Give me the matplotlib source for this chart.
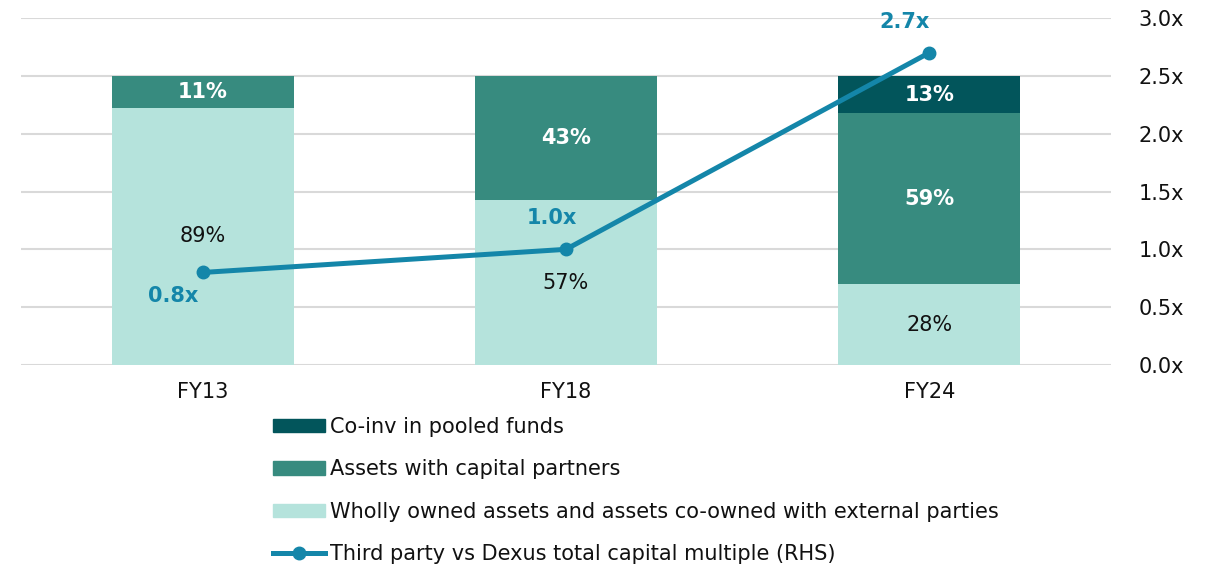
import matplotlib.pyplot as plt
from matplotlib.patches import Patch
from matplotlib.lines import Line2D

plt.rcParams['font.family'] = ['DejaVu Sans']

years = ['FY13', 'FY18', 'FY24']
wholly_owned = [89, 57, 28]
capital_partners = [11, 43, 59]
co_inv = [0, 0, 13]
multiple = [0.8, 1.0, 2.7]
multiple_labels = ['0.8x', '1.0x', '2.7x']

c_dark = '#02555B'
c_mid = '#378B7F'
c_light = '#B5E3DC'
c_line = '#1486A9'
c_grid = '#D9D9D9'
fs = 15

fig = plt.figure(figsize=(12.12, 5.66), dpi=100)
ax = fig.add_axes([21 / 1212, 201 / 566, 1090 / 1212, 347 / 566])
ax2 = ax.twinx()

x = range(len(years))
ax.bar(x, wholly_owned, width=0.5, color=c_light, zorder=2)
ax.bar(x, capital_partners, width=0.5, bottom=wholly_owned, color=c_mid, zorder=2)
bottoms = [a + b for a, b in zip(wholly_owned, capital_partners)]
ax.bar(x, co_inv, width=0.5, bottom=bottoms, color=c_dark, zorder=2)

for i in x:
    ax.text(i, wholly_owned[i] / 2, f'{wholly_owned[i]}%', ha='center', va='center',
            fontsize=fs, color='#111111', zorder=3)
    ax.text(i, wholly_owned[i] + capital_partners[i] / 2, f'{capital_partners[i]}%',
            ha='center', va='center', fontsize=fs, color='white', fontweight='bold', zorder=3)
    if co_inv[i]:
        ax.text(i, bottoms[i] + co_inv[i] / 2, f'{co_inv[i]}%', ha='center', va='center',
                fontsize=fs, color='white', fontweight='bold', zorder=3)

ax.set_ylim(0, 120)
ax.set_xlim(-0.5, 2.5)
ax.set_yticks([])
ax.set_xticks(list(x))
ax.set_xticklabels(years, fontsize=fs, color='#111111')
ax.tick_params(axis='x', length=0, pad=12)

ax2.set_ylim(0, 3.0)
ax2.set_yticks([0, 0.5, 1.0, 1.5, 2.0, 2.5, 3.0])
ax2.set_yticklabels([f'{v:.1f}x' for v in [0, 0.5, 1.0, 1.5, 2.0, 2.5, 3.0]],
                    fontsize=fs, color='#111111')
ax2.tick_params(axis='y', length=0, pad=20)
for v in ax2.get_yticks():
    ax.axhline(v * 40, color=c_grid, lw=1.5, zorder=1)

ax2.plot(x, multiple, color=c_line, lw=3.6, marker='o', markersize=9, zorder=4)
offsets = [(-29, -24), (-14, 31), (-25, 31)]
for i, (dx, dy) in zip(x, offsets):
    ax2.annotate(multiple_labels[i], (i, multiple[i]), xytext=(dx * 0.72, dy * 0.72),
                 textcoords='offset points', ha='center', va='center', fontsize=fs,
                 fontweight='bold', color=c_line)

for a in (ax, ax2):
    for s in a.spines.values():
        s.set_visible(False)
ax.set_zorder(ax2.get_zorder() - 1)
ax2.patch.set_visible(False)
ax.patch.set_visible(False)

handles = [
    Patch(color=c_dark, label='Co-inv in pooled funds'),
    Patch(color=c_mid, label='Assets with capital partners'),
    Patch(color=c_light, label='Wholly owned assets and assets co-owned with external parties'),
    Line2D([], [], color=c_line, lw=3.6, marker='o', markersize=9,
           label='Third party vs Dexus total capital multiple (RHS)'),
]
fig.legend(handles=handles, loc='upper left', bbox_to_anchor=(273 / 1212, 1 - 417 / 566),
           frameon=False, fontsize=fs, handlelength=2.5, handleheight=0.6,
           handletextpad=0.25, labelspacing=1.07, borderpad=0, borderaxespad=0,
           labelcolor='#111111')

fig.savefig('out.png', dpi=100)
